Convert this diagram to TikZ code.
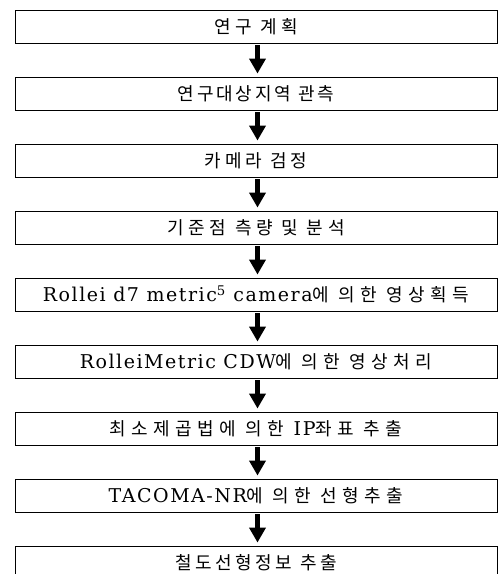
\documentclass[tikz,border=0pt]{standalone}
\usepackage{fontspec}
\usetikzlibrary{arrows.meta}
\newfontfamily\kr{Noto Sans CJK KR}
\newfontfamily\lat[LetterSpace=8]{DejaVu Serif}
\newcommand{\la}[1]{{\lat\fontsize{19}{21}\selectfont #1}}
\newcommand{\ks}[2]{{\addfontfeature{LetterSpace=#1}#2}}
\begin{document}
\begin{tikzpicture}[x=1pt,y=1pt,
  stepbox/.style={draw, line width=0.9pt, minimum width=482pt, minimum height=33pt, inner sep=0pt, font=\fontsize{18}{20}\selectfont\kr},
  bigarrow/.style={line width=5.7pt, -{Triangle[width=16pt,length=15pt]}, shorten <=2pt, shorten >=3pt}]
\useasboundingbox (0,0) rectangle (499,-574);
\node[stepbox] (b1) at (256,-26.5) {\ks{24}{연구 계획}};
\node[stepbox] (b2) at (256,-93.5) {\ks{16}{연구대상지역 관측}};
\node[stepbox] (b3) at (256,-160.5) {\ks{22}{카메라 검정}};
\node[stepbox] (b4) at (256,-227.5) {\ks{26}{기준점 측량 및 분석}};
\node[stepbox] (b5) at (256,-294.5) {\la{Rollei d7 metric\textsuperscript{5} camera}\ks{30}{에 의한 영상획득}};
\node[stepbox] (b6) at (256,-361.5) {\la{RolleiMetric CDW}\ks{30}{에 의한 영상처리}};
\node[stepbox] (b7) at (256,-428.5) {\ks{30}{최소제곱법에 의한 }\la{IP}\ks{30}{좌표 추출}};
\node[stepbox] (b8) at (256,-495.5) {\la{TACOMA-NR}\ks{30}{에 의한 선형추출}};
\node[stepbox] (b9) at (256,-562.5) {\ks{20}{철도선형정보 추출}};
\foreach \a/\b in {b1/b2,b2/b3,b3/b4,b4/b5,b5/b6,b6/b7,b7/b8,b8/b9}
  \draw[bigarrow] ([xshift=1.5pt]\a.south) -- ([xshift=1.5pt]\b.north);
\end{tikzpicture}
\end{document}
